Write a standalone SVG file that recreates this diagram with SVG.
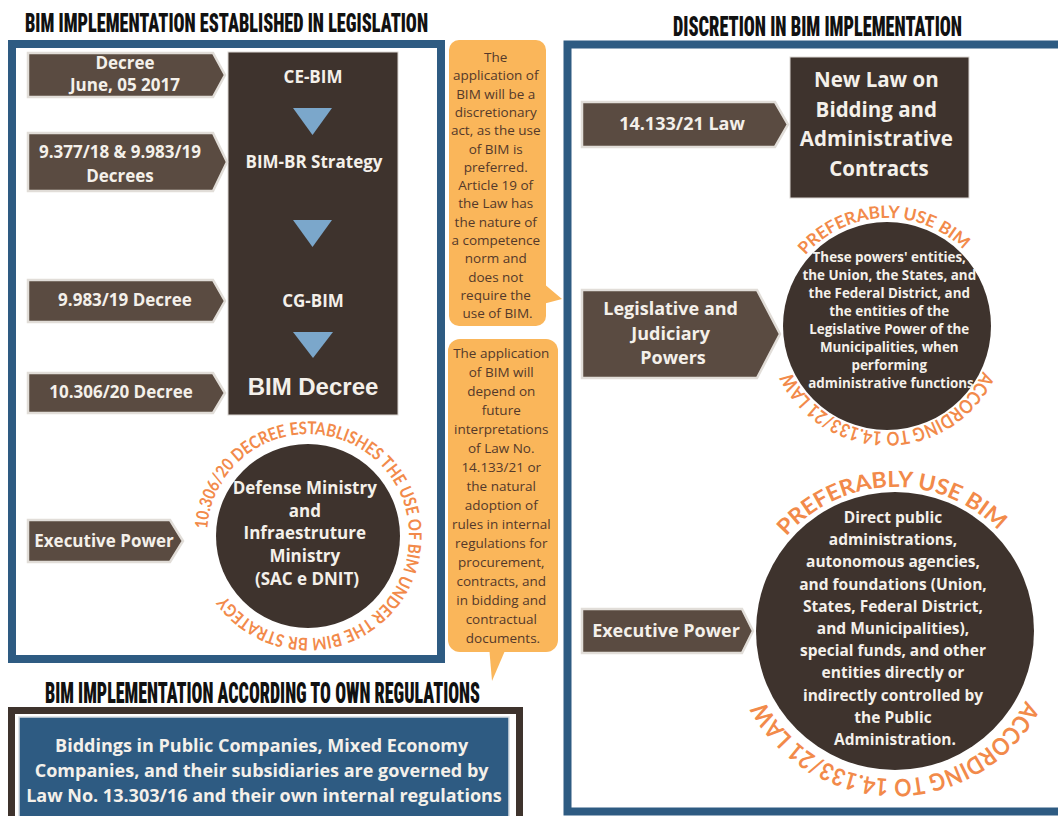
<svg xmlns="http://www.w3.org/2000/svg" width="1058" height="816" viewBox="0 0 1058 816">
  <style>
    .hdr { font-family: "Liberation Sans Narrow", "Roboto Condensed", "DejaVu Sans Condensed", "Liberation Sans", sans-serif; font-weight: 900; fill: #111111; }
    .panel { fill: #ffffff; stroke: #2e5b82; stroke-width: 8; }
    .tag { fill: #5a4b41; stroke: #e1ddd8; stroke-width: 2.5; }
    .box { fill: #3e332d; stroke: #dcd8d4; stroke-width: 1; }
    .lbl { font-family: "Open Sans", "DejaVu Sans", sans-serif; font-weight: 700; fill: #f4f0ea; text-anchor: middle; }
    .tri { fill: #7ba7cb; }
    .bubble { fill: #fab65a; }
    .note { font-family: "Open Sans", "DejaVu Sans", sans-serif; font-size: 13.5px; fill: #54392a; text-anchor: middle; }
    .ring { font-family: Lato, "Open Sans", sans-serif; font-weight: 700; fill: #f28a4a; }
  </style>
  <defs>
    <path id="arcLeft" d="M207.25,528.95 A101,101 0 1 1 408.75,543.05 A101,101 0 1 1 207.25,528.95"/>
    <path id="arcMidTop" d="M805.49,255.14 A108,108 0 0 1 963.37,249.63"/>
    <path id="arcMidBot" d="M982.83,371.30 A106,106 0 0 1 791.25,371.46"/>
    <path id="arcLowTop" d="M786.48,536.33 A144,144 0 0 1 998.58,530.96"/>
    <path id="arcLowBot" d="M1025.67,700.49 A148,148 0 0 1 764.45,700.71"/>
  </defs>

  <rect width="1058" height="816" fill="#ffffff"/>

  <!-- section headings -->
  <text class="hdr" x="25" y="32" font-size="26" textLength="403" lengthAdjust="spacingAndGlyphs">BIM IMPLEMENTATION ESTABLISHED IN LEGISLATION</text>
  <text class="hdr" x="673" y="36" font-size="27" textLength="289" lengthAdjust="spacingAndGlyphs">DISCRETION IN BIM IMPLEMENTATION</text>
  <text class="hdr" x="45" y="703" font-size="29" textLength="435" lengthAdjust="spacingAndGlyphs">BIM IMPLEMENTATION ACCORDING TO OWN REGULATIONS</text>

  <!-- panel frames -->
  <rect class="panel" x="12" y="44" width="429" height="615"/>
  <rect class="panel" x="567.5" y="44.5" width="520" height="767"/>

  <!-- legislation chain -->
  <g id="legislation-box">
    <rect class="box" x="228" y="52" width="170" height="363"/>
    <text class="lbl" x="313" y="83" font-size="17">CE-BIM</text>
    <text class="lbl" x="314" y="168" font-size="17">BIM-BR Strategy</text>
    <text class="lbl" x="313" y="307" font-size="17">CG-BIM</text>
    <text x="313" y="395" font-family="'Liberation Sans', Arial, sans-serif" font-weight="700" font-size="24" fill="#f4f0ea" text-anchor="middle">BIM Decree</text>
  </g>

  <g id="connectors">
    <polygon class="tri" points="293,108 332,108 312.5,135"/>
    <polygon class="tri" points="293,220 332,220 312.5,247"/>
    <polygon class="tri" points="293,332 333,332 313,358"/>
  </g>

  <g id="tag-decree-2017">
    <polygon class="tag" points="28,53 213,53 225,75 213,97 28,97"/>
    <text class="lbl" x="125" y="69" font-size="17">Decree</text>
    <text class="lbl" x="125" y="91" font-size="17">June, 05 2017</text>
  </g>
  <g id="tag-decrees-9377">
    <polygon class="tag" points="28,133 213,133 227,162 213,191 28,191"/>
    <text class="lbl" x="120" y="158" font-size="17">9.377/18 &amp; 9.983/19</text>
    <text class="lbl" x="120" y="182" font-size="17">Decrees</text>
  </g>
  <g id="tag-decree-9983">
    <polygon class="tag" points="28,280 213,280 225,301 213,322 28,322"/>
    <text class="lbl" x="125" y="306" font-size="17">9.983/19 Decree</text>
  </g>
  <g id="tag-decree-10306">
    <polygon class="tag" points="28,373 213,373 225,393 213,413 28,413"/>
    <text class="lbl" x="121" y="398" font-size="17">10.306/20 Decree</text>
  </g>
  <g id="tag-executive-left">
    <polygon class="tag" points="28,520 170,520 183,541 170,562 28,562"/>
    <text class="lbl" x="104" y="547" font-size="17">Executive Power</text>
  </g>

  <g id="circle-ministries">
    <circle cx="308" cy="536" r="92" fill="#3e332d"/>
    <text class="lbl" font-size="17">
      <tspan x="307" y="494">Defense Ministry</tspan>
      <tspan x="307" y="517">and</tspan>
      <tspan x="307" y="539">Infraestruture</tspan>
      <tspan x="307" y="562">Ministry</tspan>
      <tspan x="307" y="585">(SAC e  DNIT)</tspan>
    </text>
    <text class="ring" font-size="17.5"><textPath href="#arcLeft" textLength="567" lengthAdjust="spacingAndGlyphs">10.306/20 DECREE ESTABLISHES THE USE OF BIM UNDER THE BIM BR STRATEGY</textPath></text>
  </g>

  <!-- notes -->
  <g id="note-discretionary">
    <rect class="bubble" x="449" y="40" width="97" height="286" rx="10"/>
    <polygon class="bubble" points="543,283 562,299 543,304"/>
    <text class="note">
      <tspan x="497.5" y="62">The</tspan>
      <tspan x="497.5" y="80.3">application of</tspan>
      <tspan x="497.5" y="98.6">BIM will be a</tspan>
      <tspan x="497.5" y="116.9">discretionary</tspan>
      <tspan x="497.5" y="135.2">act, as the use</tspan>
      <tspan x="497.5" y="153.5">of BIM is</tspan>
      <tspan x="497.5" y="171.8">preferred.</tspan>
      <tspan x="497.5" y="190.1">Article 19 of</tspan>
      <tspan x="497.5" y="208.4">the Law has</tspan>
      <tspan x="497.5" y="226.7">the nature of</tspan>
      <tspan x="497.5" y="245">a competence</tspan>
      <tspan x="497.5" y="263.3">norm and</tspan>
      <tspan x="497.5" y="281.6">does not</tspan>
      <tspan x="497.5" y="299.9">require the</tspan>
      <tspan x="497.5" y="318.2">use of BIM.</tspan>
    </text>
  </g>
  <g id="note-interpretation">
    <rect class="bubble" x="448" y="339" width="110" height="313" rx="12"/>
    <polygon class="bubble" points="489,646 507,646 492,681"/>
    <text class="note">
      <tspan x="503" y="358">The application</tspan>
      <tspan x="503" y="377">of BIM will</tspan>
      <tspan x="503" y="396">depend on</tspan>
      <tspan x="503" y="415">future</tspan>
      <tspan x="503" y="434">interpretations</tspan>
      <tspan x="503" y="453">of Law No.</tspan>
      <tspan x="503" y="472">14.133/21 or</tspan>
      <tspan x="503" y="491">the natural</tspan>
      <tspan x="503" y="510">adoption of</tspan>
      <tspan x="503" y="529">rules in internal</tspan>
      <tspan x="503" y="548">regulations for</tspan>
      <tspan x="503" y="567">procurement,</tspan>
      <tspan x="503" y="586">contracts, and</tspan>
      <tspan x="503" y="605">in bidding and</tspan>
      <tspan x="503" y="624">contractual</tspan>
      <tspan x="503" y="643">documents.</tspan>
    </text>
  </g>

  <!-- discretion panel -->
  <g id="tag-law-14133">
    <polygon class="tag" points="582,102 775,102 788,124.5 775,147 582,147"/>
    <text class="lbl" x="682" y="130" font-size="18">14.133/21 Law</text>
  </g>
  <g id="new-law-box">
    <rect class="box" x="790" y="57" width="179" height="141"/>
    <text class="lbl" font-size="20.5">
      <tspan x="879" y="87">New Law on</tspan>
      <tspan x="879" y="116.5">Bidding and</tspan>
      <tspan x="879" y="146">Administrative</tspan>
      <tspan x="879" y="175.5">Contracts</tspan>
    </text>
  </g>

  <g id="tag-legislative">
    <polygon class="tag" points="582,290 757,290 780,334 757,378 582,378"/>
    <text class="lbl" font-size="18">
      <tspan x="673" y="315">Legislative and</tspan>
      <tspan x="673" y="340">Judiciary</tspan>
      <tspan x="673" y="364">Powers</tspan>
    </text>
  </g>
  <g id="circle-legislative">
    <circle cx="887" cy="326" r="104" fill="#3e332d"/>
    <text class="lbl" font-size="13.4">
      <tspan x="891" y="262">These powers' entities,</tspan>
      <tspan x="891" y="280">the Union, the States, and</tspan>
      <tspan x="891" y="298">the Federal District, and</tspan>
      <tspan x="891" y="316">the entities of the</tspan>
      <tspan x="891" y="334">Legislative Power of the</tspan>
      <tspan x="891" y="352">Municipalities, when</tspan>
      <tspan x="891" y="370">performing</tspan>
      <tspan x="891" y="388">administrative functions</tspan>
    </text>
    <text class="ring" font-size="17"><textPath href="#arcMidTop" textLength="177" lengthAdjust="spacingAndGlyphs">PREFERABLY USE BIM</textPath></text>
    <text class="ring" font-size="19"><textPath href="#arcMidBot" textLength="239" lengthAdjust="spacingAndGlyphs">ACCORDING TO 14.133/21 LAW</textPath></text>
  </g>

  <g id="tag-executive-right">
    <polygon class="tag" points="582,609 742,609 753,631 742,653 582,653"/>
    <text class="lbl" x="666" y="637" font-size="18">Executive Power</text>
  </g>
  <g id="circle-executive">
    <circle cx="895" cy="631" r="139" fill="#3e332d"/>
    <text class="lbl" font-size="15.5">
      <tspan x="895" y="523">Direct public</tspan>
      <tspan x="895" y="545.2">administrations,</tspan>
      <tspan x="895" y="567.4">autonomous agencies,</tspan>
      <tspan x="895" y="589.6">and foundations (Union,</tspan>
      <tspan x="895" y="611.8">States, Federal District,</tspan>
      <tspan x="895" y="634">and Municipalities),</tspan>
      <tspan x="895" y="656.2">special funds, and other</tspan>
      <tspan x="895" y="678.4">entities directly or</tspan>
      <tspan x="895" y="700.6">indirectly controlled by</tspan>
      <tspan x="895" y="722.8">the Public</tspan>
      <tspan x="895" y="745">Administration.</tspan>
    </text>
    <text class="ring" font-size="22"><textPath href="#arcLowTop" textLength="238" lengthAdjust="spacingAndGlyphs">PREFERABLY USE BIM</textPath></text>
    <text class="ring" font-size="24"><textPath href="#arcLowBot" textLength="320" lengthAdjust="spacingAndGlyphs">ACCORDING TO 14.133/21 LAW</textPath></text>
  </g>

  <!-- own regulations -->
  <g id="own-regulations">
    <rect x="11.5" y="710.5" width="508" height="120" fill="#ffffff" stroke="#3e332d" stroke-width="7"/>
    <rect x="19" y="717" width="490" height="110" fill="#2e5b82" stroke="#d8dee4" stroke-width="1.5"/>
    <text class="lbl" font-size="18">
      <tspan x="264" y="752">Biddings in Public Companies, Mixed Economy</tspan>
      <tspan x="264" y="777">Companies, and their subsidiaries are governed by</tspan>
      <tspan x="264" y="802">Law No. 13.303/16 and their own internal regulations</tspan>
    </text>
  </g>
</svg>
